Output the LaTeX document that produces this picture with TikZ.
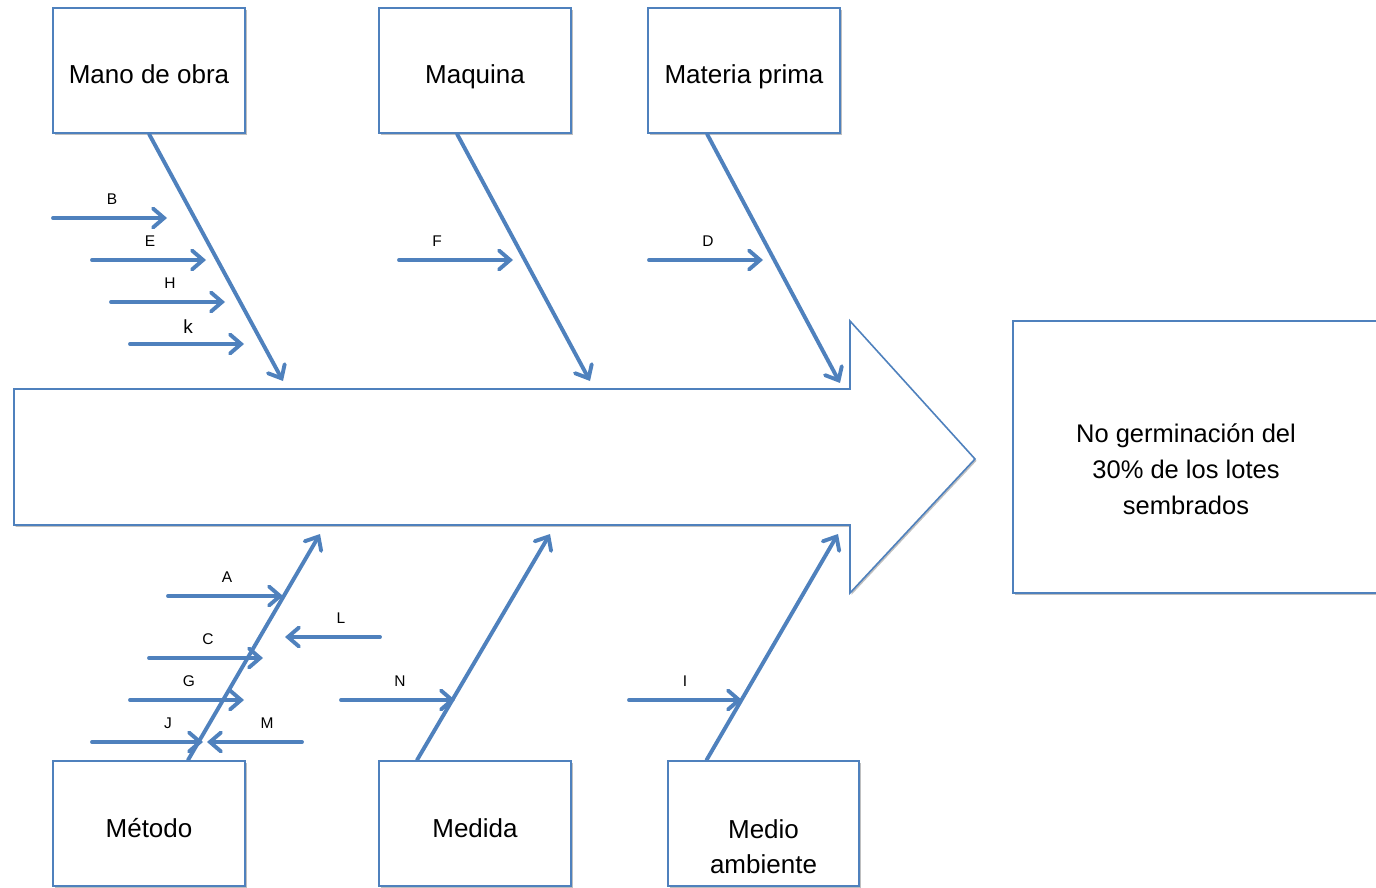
\documentclass[tikz,border=0pt]{standalone}
\usepackage{fontspec}
\setmainfont{Liberation Sans}
\usetikzlibrary{arrows.meta,shadows}
\definecolor{boneblue}{RGB}{79,129,189}
\begin{document}
\begin{tikzpicture}[x=1pt,y=-1pt,
  shade/.style={drop shadow={shadow xshift=1.5pt,shadow yshift=-1.8pt,opacity=0.25,fill=black}},
  catbox/.style={draw=boneblue,line width=1.8pt,fill=white,shade,
    minimum width=192pt,minimum height=125pt,inner sep=0pt,
    text height=27pt,text depth=0pt,
    font=\fontsize{26}{35}\selectfont,align=center},
  cause/.style={draw=boneblue,line width=3.9pt,line cap=round,
    -{Straight Barb[length=11pt,width=19pt,line cap=round]}},
  tag/.style={font=\fontsize{15.5}{18}\selectfont,inner sep=0pt},
  bigtext/.style={font=\fontsize{25.5}{36}\selectfont,align=center,inner sep=0pt}]
\useasboundingbox (0,0) rectangle (1376,888);

% main spine drawn as a block arrow
\draw[boneblue,line width=1.6pt,line join=miter,fill=white,shade]
  (14,389) -- (850,389) -- (850,321) -- (975,459) -- (850,593)
  -- (850,525) -- (14,525) -- cycle;

% effect box (runs off the right edge)
\node[draw=boneblue,line width=1.8pt,fill=white,shade,inner sep=0pt,
  minimum width=367pt,minimum height=272pt] (effect) at (1196.5,457) {};
\node[bigtext] (effecttext) at (1186,469)
  {No germinación del\\30\% de los lotes\\sembrados};

% category boxes
\node[catbox] (mano) at (149,70.5) {Mano de obra};
\node[catbox] (maq)  at (475,70.5) {Maquina};
\node[catbox] (mat)  at (744,70.5) {Materia prima};
\node[catbox] (met)  at (149,823.5) {Método};
\node[catbox] (med)  at (475,823.5) {Medida};
\node[catbox,minimum width=191pt] (amb) at (763.5,823.5) {};
\node[font=\fontsize{26}{35}\selectfont,align=center,inner sep=0pt]
  (ambtext) at (763.5,847) {Medio\\ambiente};

% bone end points on the spine
\coordinate (manoE) at (283,381);
\coordinate (maqE)  at (590,381);
\coordinate (matE)  at (840,383);
\coordinate (metE)  at (320,534);
\coordinate (medE)  at (550,534);
\coordinate (ambE)  at (838,534);

% main bones
\draw[cause] (mano.south) -- (manoE);
\draw[cause] ([xshift=-18pt]maq.south) -- (maqE);
\draw[cause] ([xshift=-37pt]mat.south) -- (matE);
\draw[cause] ([xshift=39pt]met.north) -- (metE);
\draw[cause] ([xshift=-58pt]med.north) -- (medE);
\draw[cause] ([xshift=-57pt]amb.north) -- (ambE);

% secondary causes
\foreach \n/\xa/\xb/\yy/\lx in {B/53/167/218/112, E/92/206/260/150,
    H/111/225/302/170, F/399/513/260/437, D/649/763/260/708,
    A/168/283/596/227, L/380/285/637/341, C/149/263/658/208,
    G/130/244/700/189, J/92/203/742/168, M/302/207/742/267,
    N/341/455/700/400, I/629/742/700/685}{
  \coordinate (\n-tail) at (\xa,\yy);
  \coordinate (\n-head) at (\xb,\yy);
  \draw[cause] (\n-tail) -- (\n-head);
  \node[tag] (\n-label) at (\lx,\yy-19) {\n};
}
\coordinate (k-tail) at (130,344);
\coordinate (k-head) at (244,344);
\draw[cause] (k-tail) -- (k-head);
\node[tag,font=\fontsize{19}{22}\selectfont] (k-label) at (188,327) {k};
\end{tikzpicture}
\end{document}
